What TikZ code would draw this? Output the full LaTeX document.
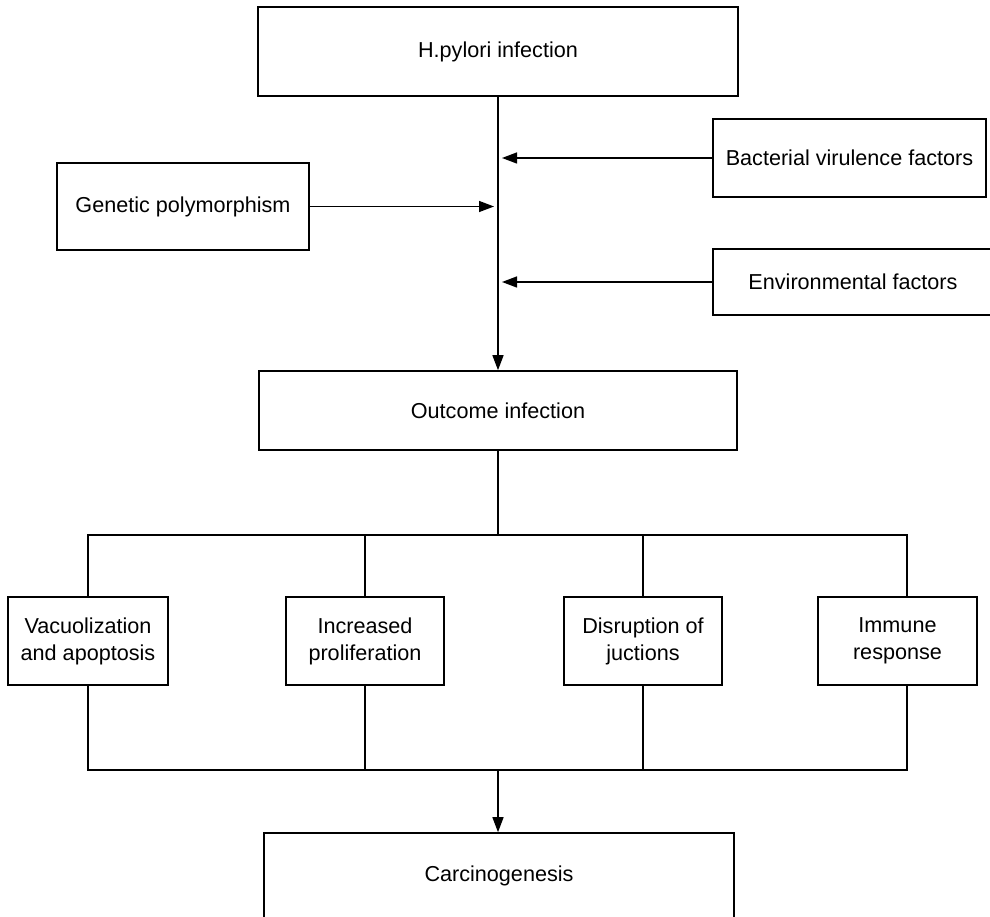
\documentclass[tikz,border=0pt]{standalone}
\usepackage{fontspec}
\setmainfont{Liberation Sans}
\usepackage{tikz}
\usetikzlibrary{arrows.meta}

\begin{document}
\begin{tikzpicture}[
			box/.style={draw, line width=0.9pt, rectangle, align=center, inner sep=0pt,
				font=\fontsize{12.3}{15.4}\selectfont},
			conn/.style={draw, line width=0.8pt},
			arr/.style={conn, -{Triangle[length=0.3cm, width=0.22cm]}},
			>=stealth
			]
			\useasboundingbox (0,0) rectangle (19.8,-18.34);
			
			% main chain
			\node[box, minimum width=9.6cm, minimum height=1.78cm] (hp) at (9.96,-1.03) {H.pylori infection};
			\node[box, minimum width=9.56cm, minimum height=1.58cm] (out) at (9.96,-8.21) {Outcome infection};
			\node[box, minimum width=9.4cm, minimum height=1.72cm] (car) at (9.98,-17.52) {Carcinogenesis};
			
			% factors acting on the infection
			\node[box, minimum width=5.04cm, minimum height=1.74cm] (gen) at (3.66,-4.13) {Genetic polymorphism};
			\node[box, minimum width=5.46cm, minimum height=1.56cm] (bac) at (16.99,-3.16) {Bacterial virulence factors};
			\node[box, minimum width=5.6cm, minimum height=1.32cm] (env) at (17.06,-5.64) {Environmental factors};
			
			% mechanisms
			\node[box, minimum width=3.2cm, minimum height=1.76cm] (vac) at (1.76,-12.82) {Vacuolization\\and apoptosis};
			\node[box, minimum width=3.16cm, minimum height=1.76cm] (inc) at (7.30,-12.82) {Increased\\proliferation};
			\node[box, minimum width=3.16cm, minimum height=1.76cm] (dis) at (12.86,-12.82) {Disruption of\\juctions};
			\node[box, minimum width=3.18cm, minimum height=1.76cm] (imm) at (17.95,-12.82) {Immune\\response};
			
			\coordinate (split) at (9.96,-10.70);
			\coordinate (merge) at (9.96,-15.40);
			
			\draw[arr] (hp.south) -- (out.north);
			\draw[arr, shorten >=0.08cm] (gen.east) -- (gen.east -| hp.south);
			\draw[arr, shorten >=0.08cm] (bac.west) -- (bac.west -| hp.south);
			\draw[arr, shorten >=0.08cm] (env.west) -- (env.west -| hp.south);
			
			% branching
			\draw[conn] (out.south) -- (split);
			\draw[conn] (vac.north) |- (split) -| ([xshift=0.19cm]imm.north);
			\draw[conn] (inc.north) -- (inc.north |- split);
			\draw[conn] (dis.north) -- (dis.north |- split);
			
			% joining
			\draw[conn] (vac.south) |- (merge) -| ([xshift=0.19cm]imm.south);
			\draw[conn] (inc.south) -- (inc.south |- merge);
			\draw[conn] (dis.south) -- (dis.south |- merge);
			\draw[arr] (merge) -- (merge |- car.north);
		\end{tikzpicture}
\end{document}
